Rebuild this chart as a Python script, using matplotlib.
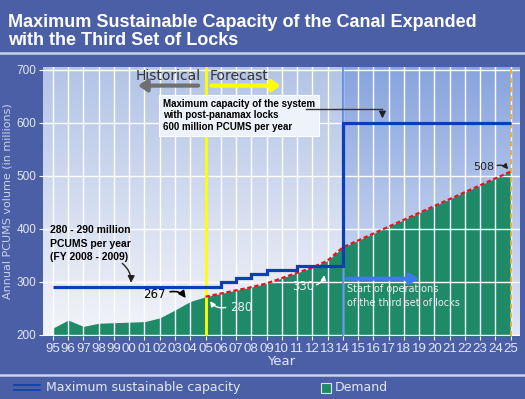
import matplotlib.pyplot as plt
import numpy as np

# years 1995..2025 as index 0..30
year_labels = ['95', '96', '97', '98', '99', '00', '01', '02', '03', '04', '05',
               '06', '07', '08', '09', '10', '11', '12', '13', '14', '15', '16',
               '17', '18', '19', '20', '21', '22', '23', '24', '25']

# historical demand 95..05
hist_demand = [213, 228, 216, 222, 223, 224, 225, 232, 247, 263, 272]
# forecast demand 05..25
fc_demand = [272, 278, 284, 290, 297, 307, 317, 327, 340, 365, 378, 391, 404,
             417, 430, 443, 456, 469, 482, 495, 508]

# max sustainable capacity (step edges in year index, levels)
cap_edges = [0, 11, 12, 13, 14, 16, 19, 30]
cap_levels = [290, 300, 308, 315, 322, 330, 600]

BG = '#4b5fa6'
GREEN = '#1f8a68'
CAPBLUE = '#0b3fb5'
LIGHT = '#e4e8f4'
NARROW = ['Liberation Sans Narrow', 'Liberation Sans', 'DejaVu Sans']

fig = plt.figure(figsize=(5.25, 3.99), dpi=100)
fig.patch.set_facecolor(BG)

ax = fig.add_axes([0.082, 0.158, 0.908, 0.674])
ax.set_xlim(-0.65, 30.6)
ax.set_ylim(198, 705)

# gradient backgrounds
grad = np.linspace(0, 1, 100).reshape(-1, 1)
def grad_img(top, bottom):
    top = np.array(plt.matplotlib.colors.to_rgb(top))
    bottom = np.array(plt.matplotlib.colors.to_rgb(bottom))
    return (bottom + (top - bottom) * grad)[:, None, :].repeat(2, axis=1)

ax.imshow(grad_img('#b3c4e6', '#f3f4f9'), extent=[-0.65, 19, 198, 705],
          origin='lower', aspect='auto', zorder=0)
ax.imshow(grad_img('#88a4de', '#dfe6f6'), extent=[19, 30.6, 198, 705],
          origin='lower', aspect='auto', zorder=0)

x_all = np.arange(len(year_labels))
ax.set_xticks(x_all)
ax.set_xticklabels(year_labels, family=NARROW, fontsize=9.5)
ax.set_yticks([200, 300, 400, 500, 600, 700])
ax.set_yticklabels(['200', '300', '400', '500', '600', '700'], family=NARROW, fontsize=8.5)
ax.grid(True, color='white', lw=1.0, zorder=1)
ax.set_axisbelow(False)

# demand
x_hist = x_all[:len(hist_demand)]
x_fc = x_all[10:10 + len(fc_demand)]
ax.fill_between(x_hist, 198, hist_demand, color=GREEN, zorder=2, lw=0)
ax.fill_between(x_fc, 198, fc_demand, color=GREEN, zorder=2, lw=0)
ax.plot(x_fc, fc_demand, color='#e8141c', lw=1.6, ls=(0, (2, 1.2)), zorder=4)

# vertical markers
ax.axvline(10, color='#ffff00', lw=2, zorder=3)
ax.axvline(19, color='#4f82ee', lw=1.2, zorder=3)
ax.axvline(30, color='#f5a623', lw=1.3, ls=(0, (3, 2)), zorder=3)

# capacity steps
ax.stairs(cap_levels, cap_edges, baseline=None, color=CAPBLUE, lw=2.3, zorder=5)

for s in ax.spines.values():
    s.set_visible(False)
ax.tick_params(axis='both', colors='white', length=3, width=0.8, pad=2)
for lab in ax.get_xticklabels() + ax.get_yticklabels():
    lab.set_color(LIGHT)
ax.set_xlabel('Year', color=LIGHT, fontsize=9.5, labelpad=0)
ax.set_ylabel('Annual PCUMS volume (in millions)', color='#c8d2ee', fontsize=8, labelpad=3)

# historical / forecast
ax.text(9.7, 688, 'Historical', ha='right', va='center', fontsize=10, color='#333333')
ax.text(10.3, 688, 'Forecast', ha='left', va='center', fontsize=10, color='#333333')
ax.annotate('', xy=(5.4, 670), xytext=(9.7, 670),
            arrowprops=dict(arrowstyle='-|>,head_length=0.5,head_width=0.35',
                            color='#707070', lw=3))
ax.annotate('', xy=(15.1, 670), xytext=(10.2, 670),
            arrowprops=dict(arrowstyle='-|>,head_length=0.5,head_width=0.35',
                            color='#ffff00', lw=3))

# box annotation
ax.text(7.2, 614, 'Maximum capacity of the system\nwith post-panamax locks\n600 million PCUMS per year',
        ha='left', va='center', fontsize=7, fontweight='bold', color='black',
        family=NARROW, linespacing=1.2,
        bbox=dict(boxstyle='square,pad=0.4', facecolor='#eef2fa', edgecolor='white', lw=0.8))
ax.plot([16.6, 21.6], [625, 625], color='#333333', lw=1, zorder=6)
ax.annotate('', xy=(21.6, 603), xytext=(21.6, 626),
            arrowprops=dict(arrowstyle='-|>,head_length=0.4,head_width=0.2', color='#222222', lw=1))

# left note
ax.text(-0.2, 372, '280 - 290 million\nPCUMS per year\n(FY 2008 - 2009)', ha='left', va='center',
        fontsize=7.5, fontweight='bold', color='black', family=NARROW, linespacing=1.45)
ax.annotate('', xy=(5.1, 293), xytext=(4.4, 338),
            arrowprops=dict(arrowstyle='-|>,head_length=0.4,head_width=0.2', color='#222222', lw=1,
                            connectionstyle='arc3,rad=-0.3'))

# value labels
ax.text(7.4, 277, '267', ha='right', va='center', fontsize=8.5, color='black')
ax.annotate('', xy=(8.8, 265), xytext=(7.5, 280),
            arrowprops=dict(arrowstyle='-|>,head_length=0.4,head_width=0.2', color='black', lw=1.2,
                            connectionstyle='arc3,rad=-0.4'))
ax.text(11.6, 252, '280', ha='left', va='center', fontsize=8.5, color='#e8f0f0')
ax.annotate('', xy=(10.2, 268), xytext=(11.5, 253),
            arrowprops=dict(arrowstyle='-|>,head_length=0.3,head_width=0.15', color='white', lw=1,
                            connectionstyle='arc3,rad=-0.4'))
ax.text(17.1, 292, '330', ha='right', va='center', fontsize=8.5, color='#e8f0f0')
ax.annotate('', xy=(17.8, 318), xytext=(17.1, 293),
            arrowprops=dict(arrowstyle='-|>,head_length=0.3,head_width=0.15', color='white', lw=1,
                            connectionstyle='arc3,rad=0.4'))
ax.text(28.9, 517, '508', ha='right', va='center', fontsize=8, color='#222222')
ax.annotate('', xy=(29.95, 508), xytext=(28.95, 518),
            arrowprops=dict(arrowstyle='-|>,head_length=0.3,head_width=0.15', color='#222222', lw=1,
                            connectionstyle='arc3,rad=-0.4'))

# start of operations
ax.annotate('', xy=(24.2, 306), xytext=(19.1, 306),
            arrowprops=dict(arrowstyle='-|>,head_length=0.5,head_width=0.3',
                            color='#3d7ce8', lw=3))
ax.text(19.3, 296, 'Start of operations\nof the third set of locks', ha='left', va='top',
        fontsize=7, color='#e8f0f0', linespacing=1.5)

# title
fig.text(0.015, 0.965, 'Maximum Sustainable Capacity of the Canal Expanded\nwith the Third Set of Locks',
         ha='left', va='top', fontsize=13, fontweight='bold', color='white',
         family=['Liberation Sans', 'DejaVu Sans'], linespacing=1.1)

# separators
fig.add_artist(plt.Line2D([0, 1], [0.868, 0.868], color='#c9d1ea', lw=1.8))
fig.add_artist(plt.Line2D([0, 1], [0.06, 0.06], color='#c9d1ea', lw=1.8))

# legend
fig.add_artist(plt.Line2D([0.027, 0.076], [0.035, 0.035], color=CAPBLUE, lw=1.2))
fig.add_artist(plt.Line2D([0.027, 0.076], [0.022, 0.022], color=CAPBLUE, lw=1.2))
fig.text(0.087, 0.028, 'Maximum sustainable capacity', ha='left', va='center', fontsize=9, color=LIGHT)
fig.add_artist(plt.Rectangle((0.612, 0.016), 0.018, 0.024, facecolor=GREEN, edgecolor='#e0e0e0',
                             lw=0.8, transform=fig.transFigure))
fig.text(0.638, 0.028, 'Demand', ha='left', va='center', fontsize=9, color=LIGHT)

fig.savefig('out.png', dpi=100, facecolor=fig.get_facecolor())
